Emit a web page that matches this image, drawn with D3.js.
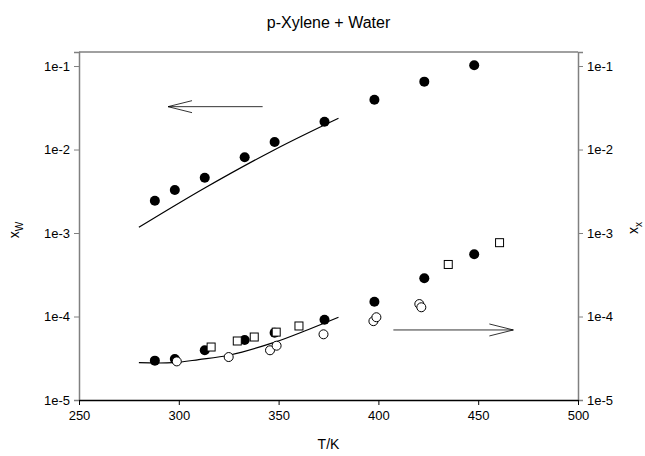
<!DOCTYPE html>
<html>
<head>
<meta charset="utf-8">
<script src="https://cdn.jsdelivr.net/npm/d3@7"></script>
<style>
  body { margin: 0; background: #fff; }
  text { font-family: "Liberation Sans", Arial, sans-serif; fill: #000; }
</style>
</head>
<body>
<div id="chart"></div>
<script>
// water in p-xylene (left axis, xW) - filled circles
var xwT = [288, 298, 313, 333, 348, 373, 398, 423, 448];
var xwVal = [2.44e-3, 3.27e-3, 4.6e-3, 8.1e-3, 1.23e-2, 2.15e-2, 3.95e-2, 6.5e-2, 0.102];

// fitted curve for xW
var xwLineT = [280, 313, 348, 380];
var xwLineVal = [1.17e-3, 3.46e-3, 9.96e-3, 2.37e-2];

// p-xylene in water (right axis, xx) - three data sets
var xxFilledT = [288, 298, 313, 333, 348, 373, 398, 423, 448];
var xxFilledVal = [2.96e-5, 3.1e-5, 3.94e-5, 5.23e-5, 6.4e-5, 9.16e-5, 1.5e-4, 2.87e-4, 5.56e-4];

var xxOpenT = [299, 325, 345.7, 349, 372.5, 397.5, 399, 420.5, 421.5];
var xxOpenVal = [2.9e-5, 3.27e-5, 3.94e-5, 4.47e-5, 6.12e-5, 8.8e-5, 9.8e-5, 1.41e-4, 1.29e-4];

var xxSquareT = [316.2, 329.3, 337.8, 348.8, 360.2, 435, 460.7];
var xxSquareVal = [4.31e-5, 5.09e-5, 5.68e-5, 6.5e-5, 7.7e-5, 4.2e-4, 7.66e-4];

// fitted curve for xx
var xxLineT = [280, 297, 310, 325.6, 347.4, 365, 380];
var xxLineVal = [2.8e-5, 2.8e-5, 3.05e-5, 3.46e-5, 4.86e-5, 7.0e-5, 9.8e-5];

// arrows [T start, T end, value]
var arrowLeft = [342, 294.6, 0.0326];
var arrowRight = [407.5, 467.6, 6.9e-5];

var xTicks = [250, 300, 350, 400, 450, 500];
var yTicks = [1e-5, 1e-4, 1e-3, 1e-2, 1e-1];
var yTickLabels = ['1e-5', '1e-4', '1e-3', '1e-2', '1e-1'];

function drawChart() {
  var width = 645, height = 456;
  var margins = { left: 79, right: 67, top: 52, bottom: 56 };
  var w = width - margins.left - margins.right;
  var h = height - margins.top - margins.bottom;

  var svg = d3.select('#chart').append('svg')
    .attr('width', width)
    .attr('height', height);

  var g = svg.append('g')
    .attr('transform', 'translate(' + margins.left + ',' + margins.top + ')');

  var xScale = d3.scaleLinear().domain([250, 500]).range([0, w]);
  var yScale = d3.scaleLog().domain([1e-5, Math.pow(10, -0.832)]).range([h, 0]);

  // frame
  g.append('line').attr('x1', 0).attr('x2', w).attr('y1', 0).attr('y2', 0)
    .attr('stroke', '#808080').attr('stroke-width', 1.5);

  var fmt = function(d) { return yTickLabels[yTicks.indexOf(d)]; };

  var leftAxis = g.append('g')
    .call(d3.axisLeft(yScale).tickValues(yTicks).tickFormat(fmt).tickSize(5).tickPadding(4));
  var rightAxis = g.append('g')
    .attr('transform', 'translate(' + w + ',0)')
    .call(d3.axisRight(yScale).tickValues(yTicks).tickFormat(fmt).tickSize(5).tickPadding(4));
  [leftAxis, rightAxis].forEach(function(a) {
    a.select('.domain').attr('stroke', '#808080').attr('stroke-width', 1.5);
    a.selectAll('.tick line').attr('stroke', '#808080');
    a.selectAll('text').attr('font-size', 13).attr('font-family', '"Liberation Sans", Arial, sans-serif');
  });

  var bottomAxis = g.append('g')
    .attr('transform', 'translate(0,' + h + ')')
    .call(d3.axisBottom(xScale).tickValues(xTicks).tickSize(5).tickPadding(6).tickSizeOuter(0));
  bottomAxis.select('.domain').attr('stroke', '#000').attr('stroke-width', 1.5);
  bottomAxis.selectAll('text').attr('font-size', 13).attr('font-family', '"Liberation Sans", Arial, sans-serif');

  // titles
  svg.append('text')
    .attr('x', margins.left + w / 2).attr('y', 28)
    .attr('text-anchor', 'middle').attr('font-size', 16)
    .text('p-Xylene + Water');

  svg.append('text')
    .attr('x', margins.left + w / 2).attr('y', 449)
    .attr('text-anchor', 'middle').attr('font-size', 14)
    .text('T/K');

  var lt = svg.append('text')
    .attr('transform', 'translate(19,230) rotate(-90)')
    .attr('text-anchor', 'middle').attr('font-size', 14);
  lt.append('tspan').text('x');
  lt.append('tspan').attr('dy', 4).attr('font-size', 10).text('W');

  var rt = svg.append('text')
    .attr('transform', 'translate(638,228) rotate(-90)')
    .attr('text-anchor', 'middle').attr('font-size', 14);
  rt.append('tspan').text('x');
  rt.append('tspan').attr('dy', 4).attr('font-size', 10).text('x');

  // curves
  var line = d3.line()
    .x(function(d) { return xScale(d[0]); })
    .y(function(d) { return yScale(d[1]); })
    .curve(d3.curveCatmullRom);

  g.append('path')
    .datum(d3.zip(xwLineT, xwLineVal))
    .attr('d', line).attr('fill', 'none').attr('stroke', '#000').attr('stroke-width', 1.2);
  g.append('path')
    .datum(d3.zip(xxLineT, xxLineVal))
    .attr('d', line).attr('fill', 'none').attr('stroke', '#000').attr('stroke-width', 1.2);

  // arrows
  [arrowLeft, arrowRight].forEach(function(a) {
    var x1 = xScale(a[0]), x2 = xScale(a[1]), y = yScale(a[2]);
    var dir = x2 > x1 ? 1 : -1;
    g.append('line').attr('x1', x1).attr('x2', x2).attr('y1', y).attr('y2', y)
      .attr('stroke', '#000').attr('stroke-width', 0.8);
    g.append('path')
      .attr('d', 'M' + (x2 - dir * 24) + ',' + (y - 6) + 'L' + x2 + ',' + y + 'L' + (x2 - dir * 24) + ',' + (y + 6))
      .attr('fill', 'none').attr('stroke', '#000').attr('stroke-width', 0.8);
  });

  // markers
  g.selectAll('.xw').data(d3.zip(xwT, xwVal)).enter().append('circle')
    .attr('cx', function(d) { return xScale(d[0]); })
    .attr('cy', function(d) { return yScale(d[1]); })
    .attr('r', 5).attr('fill', '#000');

  g.selectAll('.xxf').data(d3.zip(xxFilledT, xxFilledVal)).enter().append('circle')
    .attr('cx', function(d) { return xScale(d[0]); })
    .attr('cy', function(d) { return yScale(d[1]); })
    .attr('r', 5).attr('fill', '#000');

  g.selectAll('.xxo').data(d3.zip(xxOpenT, xxOpenVal)).enter().append('circle')
    .attr('cx', function(d) { return xScale(d[0]); })
    .attr('cy', function(d) { return yScale(d[1]); })
    .attr('r', 4.5).attr('fill', '#fff').attr('stroke', '#000').attr('stroke-width', 1);

  g.selectAll('.xxs').data(d3.zip(xxSquareT, xxSquareVal)).enter().append('rect')
    .attr('x', function(d) { return xScale(d[0]) - 4; })
    .attr('y', function(d) { return yScale(d[1]) - 4; })
    .attr('width', 8).attr('height', 8)
    .attr('fill', '#fff').attr('stroke', '#000').attr('stroke-width', 1);
}

drawChart();
</script>
</body>
</html>
